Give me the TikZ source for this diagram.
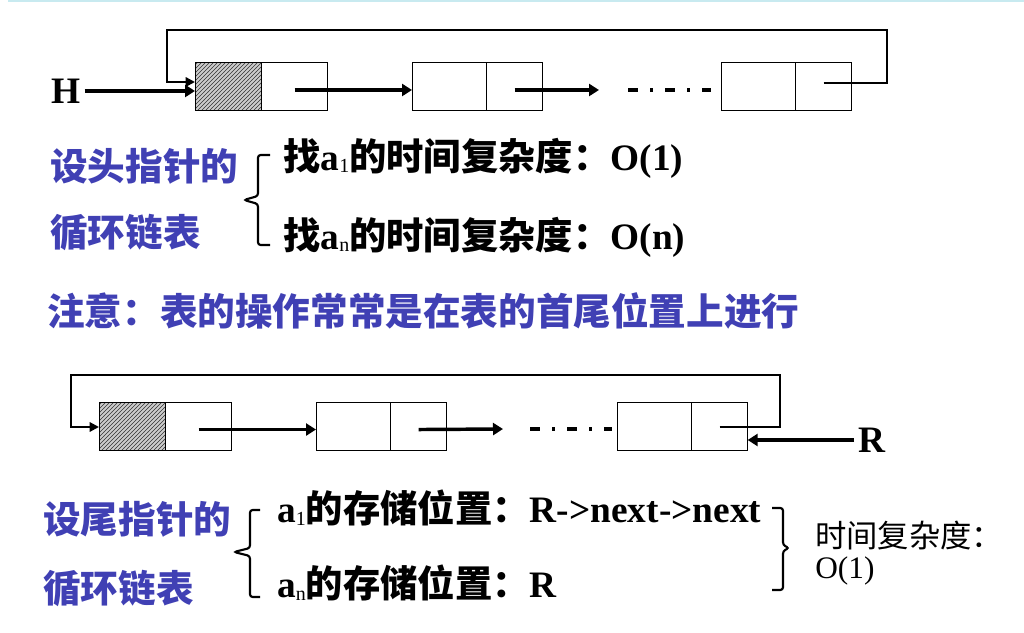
\documentclass[tikz,border=0pt]{standalone}
\usepackage{fontspec}
\setmainfont{Liberation Serif}
\newfontfamily\cjk{Noto Sans CJK SC}
\usetikzlibrary{positioning, arrows.meta, patterns}
\definecolor{textblue}{RGB}{64,64,180}
\definecolor{topline}{RGB}{200,234,240}
\newcommand{\asub}[1]{\textbf{a}\raisebox{-0.15ex}{\mdseries\fontsize{15pt}{15pt}\selectfont #1}}

\begin{document}
\begin{tikzpicture}[
    x=0.75pt, y=0.75pt,
    cell/.style={draw, line width=0.75pt, rectangle, minimum height=36pt, inner sep=0pt, outer sep=0pt},
    headcell/.style={cell, minimum width=50pt, preaction={fill=gray!40}, pattern=north east lines, pattern color=black!80},
    headptr/.style={cell, minimum width=49.5pt},
    datacell/.style={cell, minimum width=56pt},
    ptrcell/.style={cell, minimum width=42pt},
    ptrarrow/.style={-{Triangle[length=7.5pt,width=9pt]}, line width=2.6pt},
    looparrow/.style={-{Triangle[length=7pt,width=7pt]}, line width=1.6pt},
    gapdash/.style={line width=2.6pt, dash pattern=on 7.5pt off 9pt on 2.25pt off 9pt},
    bracket/.style={line width=1.6pt, rounded corners=2pt},
    bluetxt/.style={anchor=west, inner sep=0pt, text=textblue, font=\cjk\bfseries\fontsize{28.2pt}{30pt}\selectfont},
    blacktxt/.style={anchor=west, inner sep=0pt, font=\bfseries\fontsize{28pt}{30pt}\selectfont},
    costtxt/.style={anchor=west, inner sep=0pt, font=\fontsize{23.5pt}{25pt}\selectfont}
]
\useasboundingbox (0,0) rectangle (1024,632);
\draw[topline, line width=1.5pt] (8,631) -- (1024,631);

% list with head pointer
\node[blacktxt, inner sep=3pt] (H) at (47,541) {H};
\node[headcell, anchor=west] (h1d) at (195,545) {};
\node[headptr, right=0pt of h1d] (h1p) {};
\node[datacell, anchor=west] (n2d) at (412,545) {};
\node[ptrcell, right=0pt of n2d] (n2p) {};
\node[datacell, anchor=west] (n3d) at (721,545) {};
\node[ptrcell, right=0pt of n3d] (n3p) {};
\coordinate (u1) at (599,542);
\coordinate (u2) at (628,542);
\coordinate (u3) at (711,542);

\draw[ptrarrow] (H.east) -- (H.east -| h1d.west);
\draw[ptrarrow] ([yshift=-2.25pt]h1p.center) -- ([yshift=-2.25pt]n2d.west);
\draw[ptrarrow] ([yshift=-2.25pt]n2p.center) -- (u1);
\draw[gapdash] (u2) -- (u3);
\draw[looparrow] ([yshift=3pt]n3p.center) -- ++(63,0) |- (167,602) |- ([yshift=3.75pt]h1d.west);

\node[bluetxt] (head1) at (50,466) {设头指针的};
\node[bluetxt] (head2) at (50,400) {循环链表};
\draw[bracket] (270,477) -| (258,436) -- (244,432) -- (258,428) |- (270,387);
\node[blacktxt] (find1) at (283,474) {{\cjk 找}\asub{1}{\cjk 的时间复杂度：}O(1)};
\node[blacktxt] (findn) at (283,395) {{\cjk 找}\asub{n}{\cjk 的时间复杂度：}O(n)};
\node[bluetxt] (note) at (47,321) {注意：表的操作常常是在表的首尾位置上进行};

% list with tail pointer
\node[headcell, anchor=west] (Ad) at (99,205) {};
\node[headptr, right=0pt of Ad] (Ap) {};
\node[datacell, anchor=west] (Bd) at (316,205) {};
\node[ptrcell, right=0pt of Bd] (Bp) {};
\node[datacell, anchor=west] (Cd) at (617,205) {};
\node[ptrcell, right=0pt of Cd] (Cp) {};
\coordinate (l1) at (503,203);
\coordinate (l2) at (530,203);
\coordinate (l3) at (612,203);
\node[blacktxt, inner sep=3pt] (R) at (854,192) {R};

\draw[ptrarrow] ([yshift=-1.9pt]Ap.center) -- ([yshift=-1.9pt]Bd.west);
\draw[ptrarrow] ([yshift=-1.9pt]Bp.center) -- (l1);
\draw[gapdash] (l2) -- (l3);
\draw[looparrow] (Cp.center) -- ++(60,0) |- (71,257) |- (Ad.west);
\draw[ptrarrow] (R.west) -- (R.west -| Cp.east);

\node[bluetxt] (tail1) at (43,113) {设尾指针的};
\node[bluetxt] (tail2) at (43,44) {循环链表};
\draw[bracket] (260,122) -| (250,84) -- (234,80) -- (250,76) |- (260,35);
\node[blacktxt] (pos1) at (277,124) {\asub{1}{\cjk 的存储位置：}R->next->next};
\node[blacktxt] (posn) at (277,49) {\asub{n}{\cjk 的存储位置：}R};
\draw[bracket] (772,124) -| (783,87) -- (789,84) -- (783,81) |- (772,42);
\node[costtxt] (cost) at (815,96) {{\cjk 时间复杂度：}};
\node[costtxt] (costval) at (815,61) {O(1)};
\end{tikzpicture}
\end{document}
